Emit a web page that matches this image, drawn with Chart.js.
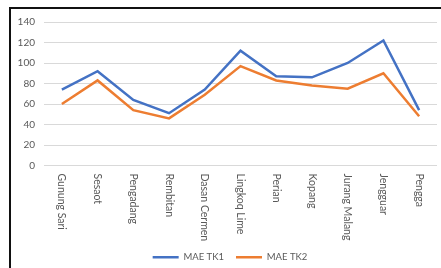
<!DOCTYPE html>
<html>
<head>
<meta charset="utf-8">
<script src="https://cdn.jsdelivr.net/npm/chart.js@4"></script>
<style>
  html, body { margin: 0; padding: 0; background: #fff; overflow: hidden; }
  #frame {
    position: absolute; left: 9px; top: 7px;
    width: 440px; height: 275px;
    border-left: 2px solid #111; border-top: 2px solid #111;
  }
  #box { position: absolute; left: 0; top: 0; width: 430px; height: 263px; }
</style>
</head>
<body>
<div id="frame"><div id="box"><canvas id="maeChart"></canvas></div></div>
<script>
// DATA: MAE per lokasi
var lokasi = ['Gunung Sari', 'Sesaot', 'Pengadang', 'Rembitan', 'Dasan Cermen', 'Lingkoq Lime',
  'Perian', 'Kopang', 'Jurang Malang', 'Jengguar', 'Pengga'];
var maeTK1 = [74, 92, 64, 51, 74, 112, 87, 86, 100, 122, 54];
var maeTK2 = [60, 83, 54, 46, 69, 97, 83, 78, 75, 90, 48];
var yTicks = [0, 20, 40, 60, 80, 100, 120, 140];

var grey = '#595959';
var huruf = 'Lato, "Liberation Sans", sans-serif';

// label sumbu x diputar (dibaca dari atas ke bawah) seperti di Excel
var labelVertikal = {
  id: 'labelVertikal',
  beforeDraw: function (chart) {
    // geser legenda sedikit ke kanan
    chart.legend.left += 6;
    chart.legend.right += 6;
  },
  afterDraw: function (chart) {
    var sx = chart.scales.x;
    var c = chart.ctx;
    c.save();
    c.fillStyle = grey;
    c.font = '10.5px ' + huruf;
    c.textAlign = 'left';
    c.textBaseline = 'middle';
    lokasi.forEach(function (nama, i) {
      c.save();
      c.translate(sx.getPixelForTick(i), sx.top + 8);
      c.rotate(Math.PI / 2);
      c.fillText(nama, 0, 0);
      c.restore();
    });
    c.restore();
  }
};

var ctx = document.getElementById('maeChart').getContext('2d');
var chart = new Chart(ctx, {
  type: 'line',
  data: {
    labels: lokasi,
    datasets: [{
      label: 'MAE TK1',
      data: maeTK1,
      borderColor: '#4472C4',
      backgroundColor: '#4472C4',
      borderWidth: 2.5,
      pointRadius: 0,
      tension: 0
    }, {
      label: 'MAE TK2',
      data: maeTK2,
      borderColor: '#ED7D31',
      backgroundColor: '#ED7D31',
      borderWidth: 2.5,
      pointRadius: 0,
      tension: 0
    }]
  },
  options: {
    responsive: true,
    maintainAspectRatio: false,
    animation: false,
    layout: { padding: { top: 13, right: 4, left: 0, bottom: 0 } },
    scales: {
      x: {
        offset: true,
        grid: { display: false, drawTicks: false },
        border: { display: false },
        ticks: { display: false },
        afterFit: function (scale) { scale.height = 75; }
      },
      y: {
        min: 0,
        max: 140,
        afterBuildTicks: function (scale) {
          scale.ticks = yTicks.map(function (v) { return { value: v }; });
        },
        afterFit: function (scale) {
          scale.width = 33;
          scale.paddingTop = 0;
          scale.paddingBottom = 0;
        },
        grid: { color: '#d9d9d9', lineWidth: 1, drawTicks: false },
        border: { display: false },
        ticks: { color: grey, padding: 9, font: { size: 10, family: huruf } }
      }
    },
    plugins: {
      legend: {
        position: 'bottom',
        labels: {
          usePointStyle: true,
          pointStyle: 'line',
          pointStyleWidth: 26,
          color: grey,
          padding: 12,
          font: { size: 9.5, family: huruf }
        }
      },
      tooltip: { enabled: false }
    }
  },
  plugins: [labelVertikal]
});
</script>
</body>
</html>
